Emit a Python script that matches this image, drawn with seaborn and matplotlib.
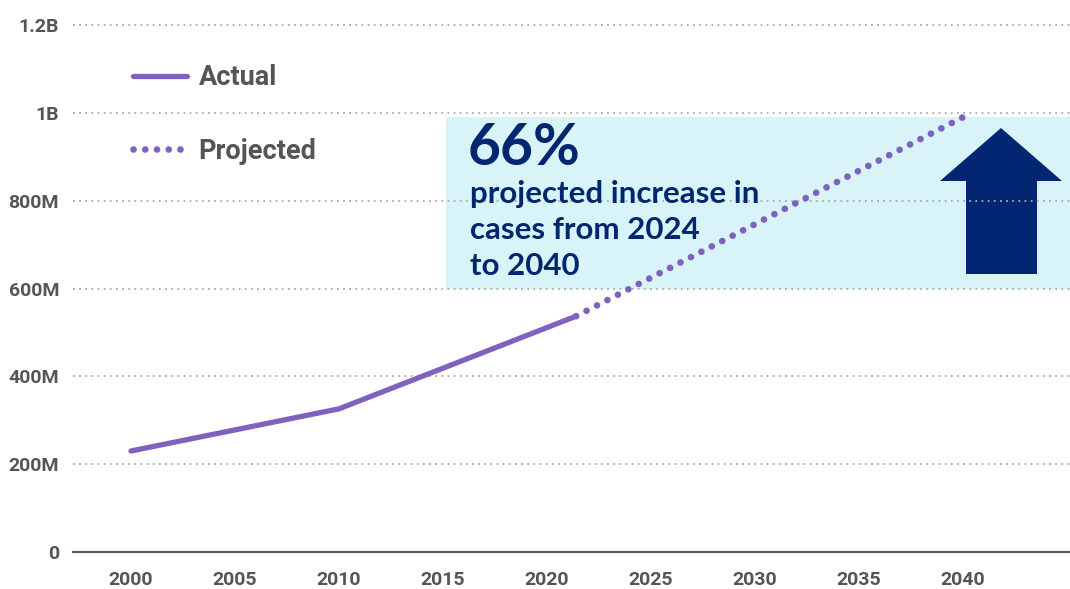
import matplotlib
matplotlib.use('Agg')
import matplotlib.pyplot as plt
import seaborn as sns
import pandas as pd
from matplotlib.patches import Polygon, Rectangle
from matplotlib.lines import Line2D

# ---- data ----
actual_years = [2000, 2010, 2021.4]
actual_values = [230e6, 326e6, 537e6]
projected_years = [2021.4, 2040]
projected_values = [537e6, 990e6]
x_ticks = [2000, 2005, 2010, 2015, 2020, 2025, 2030, 2035, 2040]
y_ticks = [0, 200e6, 400e6, 600e6, 800e6, 1000e6, 1200e6]
y_tick_labels = ['0', '200M', '400M', '600M', '800M', '1B', '1.2B']
series_names = ['Actual', 'Projected']
headline = '66%'
sub_lines = ['projected increase in', 'cases from 2024', 'to 2040']

PURPLE = '#8061BE'
NAVY = '#00266F'
GRAY = '#555555'
W, H = 1070, 589

sns.set_theme(style='white')
plt.rcParams['font.family'] = ['Roboto', 'DejaVu Sans']

df_a = pd.DataFrame({'year': actual_years, 'value': actual_values})
df_p = pd.DataFrame({'year': projected_years, 'value': projected_values})

fig = plt.figure(figsize=(W / 100, H / 100), dpi=100)
ax = fig.add_axes([73 / W, 1 - 552 / H, 1 - 73 / W, (552 - 20) / H])

DOT = (0, (0.01, 1.75))
sns.lineplot(data=df_a, x='year', y='value', ax=ax, color=PURPLE, lw=3.8,
             solid_capstyle='round', label=series_names[0], zorder=3)
sns.lineplot(data=df_p, x='year', y='value', ax=ax, color=PURPLE, lw=4.8,
             dashes=False, label=series_names[1], zorder=3)
pline = ax.get_lines()[-1]
pline.set_linestyle(DOT)
pline.set_dash_capstyle('round')

px_per_year = 20.8
ax.set_xlim(2000 - 58 / px_per_year, 2000 + (W - 131) / px_per_year)
ax.set_ylim(0, 1200e6 * 532 / 527)

# highlight box
ax.add_patch(Rectangle((2000 + (446 - 131) / px_per_year, 600e6), 40, 390e6,
                       facecolor='#D8F4F8', edgecolor='none', zorder=0.2))

ax.set_xticks(x_ticks)
ax.set_xticklabels([str(t) for t in x_ticks])
ax.set_yticks(y_ticks)
ax.set_yticklabels(y_tick_labels)
ax.tick_params(axis='both', length=0, labelsize=14, labelcolor=GRAY)
ax.tick_params(axis='x', pad=13.5)
ax.tick_params(axis='y', pad=10)
for lab in ax.get_xticklabels() + ax.get_yticklabels():
    lab.set_fontweight('bold')
ax.set_xlabel('')
ax.set_ylabel('')

ax.set_axisbelow(True)
ax.yaxis.grid(True, linestyle=(0, (1, 2.4)), color='#aaaaaa', lw=1.3)
ax.xaxis.grid(False)
for s in ['top', 'right', 'left']:
    ax.spines[s].set_visible(False)
ax.spines['bottom'].set_color('#5a5a5a')
ax.spines['bottom'].set_linewidth(1.6)

# legend
h_a = Line2D([], [], color=PURPLE, lw=3.8, solid_capstyle='round')
h_p = Line2D([], [], color=PURPLE, lw=4.8, linestyle=DOT, dash_capstyle='round')
ax.legend([h_a, h_p], series_names, loc='upper left',
          bbox_to_anchor=(133 / W, 1 - 64 / H), bbox_transform=fig.transFigure,
          frameon=False, borderpad=0, borderaxespad=0, handlelength=2.0,
          handletextpad=0.42, labelspacing=1.72,
          prop={'weight': 'bold', 'size': 19.5}, labelcolor=GRAY)

# annotation text
fig.text(468 / W, 1 - 165 / H, headline, color=NAVY, fontsize=41,
         fontweight='bold', family=['Lato', 'DejaVu Sans'], va='baseline', ha='left')
for i, line in enumerate(sub_lines):
    fig.text(470 / W, 1 - (203 + 36 * i) / H, line, color=NAVY, fontsize=22.5,
             fontweight='bold', family=['Lato', 'DejaVu Sans'], va='baseline', ha='left')

# up arrow (drawn beneath the grid lines, as in the reference)
arrow_px = [(940, 181), (1001, 128), (1062, 181), (1037, 181), (1037, 274),
            (966, 274), (966, 181)]
ax.add_patch(Polygon([(x / W, 1 - y / H) for x, y in arrow_px], closed=True,
                     transform=fig.transFigure, facecolor='#022672',
                     edgecolor='none', zorder=0.3))

fig.savefig('out.png', dpi=100)
